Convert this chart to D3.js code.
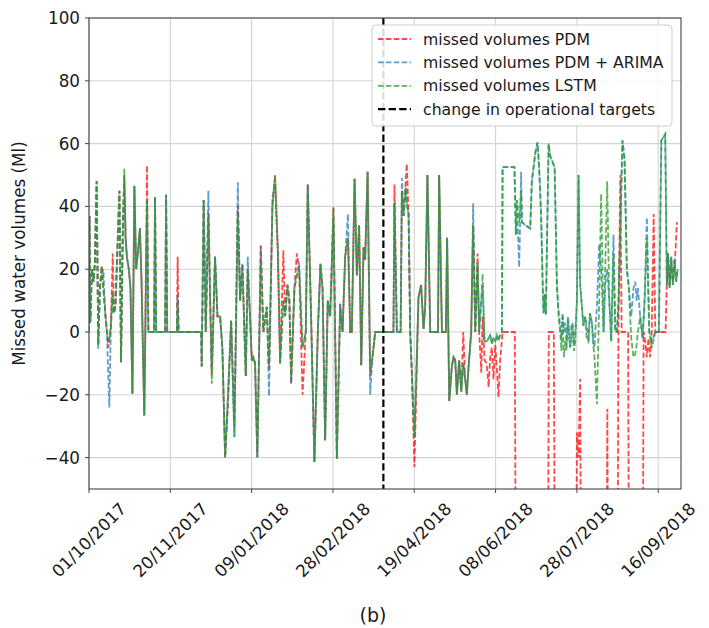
<!DOCTYPE html>
<html lang="en">
<head>
<meta charset="UTF-8">
<title>Missed water volumes</title>
<script src="https://d3js.org/d3.v7.min.js"></script>
<style>
    body, html { margin: 0; background: #fff; }
    text { font-family: "DejaVu Sans", sans-serif; fill: #1a1a1a; }
</style>
</head>
<body>
<div id="chart"></div>
<script>
// days counted from 01/10/2017, values in Ml
const startDate = "2017-10-01";
const changeDay = 181; // change in operational targets (31/03/2018)

const seriesNames = ["missed volumes PDM", "missed volumes PDM + ARIMA", "missed volumes LSTM"];

const pdm = [
  [0,0],[0.3,37],[0.8,3],[1.8,20],[2.8,16],[3.6,22],[4.7,48],[5.7,-4],[6.7,14],[7.8,21],[8.8,14],[10,6],[11,0],[12,-5],[13.5,3],[14.6,25],[15.3,6],[16.2,8],[17.2,22],[18.7,45],[19.7,-9.6],[20.7,30],[21.7,50],[22.5,30],[23.3,24],[24.5,20],[25.5,14],[26.7,-19.7],[27.9,46.6],[29,20],[30.2,26],[31.3,33],[32.3,16],[34,-26.6],[35.7,53],[36.5,0],[40,0],[40.6,43],[41.3,0],[46.8,0],[47.4,43.7],[48.1,0],[54,0],[54.5,24],[55.1,0],
  [69,0],[69.3,-11],[70.5,42],[71.8,0],[73.4,38],[74.5,10],[75.5,-14],[77.5,24],[79,5],[80.6,5],[82,-5],[83.7,-40],[85.3,-25],[87.4,3.6],[89.4,-30],[91.5,40],[92.9,10],[94.3,21.7],[96.4,-14],[97.6,20],[99,5],[100.1,-9],[101,-8],[102.1,-10],[103.5,-40],[105.6,27.5],[107.2,0],[109.3,8],[110.7,-12],[112.8,40],[114.4,50],[116.1,26],[117.5,-10],[119.5,26],[120.6,5],[122,15],[123.2,10],[124.3,-16.5],[126.3,14],[127.8,25],[129.2,20],[131.3,-20],[133.3,0],[134.5,47],[136.6,5],[138.6,-41.4],[140.7,0],[142.3,21.7],[143.6,14],[145.2,-34.5],[146.8,10],[148.3,5],[150.3,39.7],[152.4,-40.4],[154.4,9],[155.9,0],[157.5,24],[159.2,30],[160.6,0],[161.6,0],[163.3,48.8],[164.7,18],[166.1,34],[167.4,-10.6],[168.8,27],[169.8,23],[171.3,51],[172.9,-14],[174.3,-8],[176,0],
  [187.2,0],[187.8,47],[189.3,0],[191.6,0],[192.4,45],[193.4,37],[195.4,53.5],[196.5,37.5],[197.5,0],[198.5,-13],[200.1,-43],[202.6,11],[204.2,15],[205.7,1],[206.7,8],[208.1,50],[209.8,0],[214.6,0],[215.3,50],[217,0],[219.4,0],[220.2,30],[221.5,-22],[223.1,-11],[224.1,-8],[225.2,-9],[226.2,-20],[227.6,-9],[228.9,-19],[230.1,0],[231.3,-15],[232.3,-20],[233.4,-11],[235,0],[236.2,34],[237.5,0],[238.9,25],[239.9,0],[241.2,-13],[242,5],[243.2,-9],
  [244.5,-10],[245.7,-17.5],[246.7,-8],[247.7,-5],[248.7,-15],[249.8,-4],[250.8,-12],[251.8,-20.7],[252.8,-9],[254.3,0],[261.8,0],[262.5,-90],[282.2,-90],[282.7,0],[285.8,0],[286.5,-90],[299.5,-90],[300,-32],[301,-40],[302,-15],[302.6,-90],[318.2,-90],[318.7,-24.5],[319.2,-90],[325,-90],[325.5,0],[326.7,50],[327.5,0],[331.5,0],[332,-90],[340.5,-90],[341,0],[342,-3],[343,-8],[344,-2],[345,-8],[346,0],[347.2,37.6],[348.2,0],[354.5,0],[355.2,14],[356,25],[357,15],[358,22],[359,16],[360,20],[361.5,35]
];

const arima = [
  [0,0],[0.3,37],[0.8,3],[1.8,20],[2.8,16],[3.6,22],[4.7,48],[5.7,-5.3],[6.7,14],[7.8,18],[8.8,20],[10,6],[11,0],[12.5,-24],[13.5,3],[14.6,12],[15.3,6],[16.2,8],[17.2,22],[18.7,45],[19.7,-9.6],[20.7,30],[21.7,48],[22.5,30],[23.3,24],[24.5,20],[25.5,14],[26.7,-19.7],[27.9,46.6],[29,20],[30.2,26],[31.3,33],[32.3,16],[34,-26.6],[35.7,42],[36.5,0],[40,0],[40.6,43],[41.3,0],[46.8,0],[47.4,43.7],[48.1,0],[54,0],[54.5,12],[55.1,0],
  [69,0],[69.3,-11],[70.5,42],[71.8,0],[73.4,45],[74.5,10],[75.5,-12],[77.5,24],[79,5],[80.6,5],[82,-5],[83.7,-40],[85.3,-22],[87.4,3.6],[89.4,-33.5],[91.5,47.7],[92.9,10],[94.3,21.7],[96.4,-14],[97.6,24],[99,5],[100.1,-9],[101,-8],[102.1,-10],[103.5,-40],[105.6,27.5],[107.2,0],[109.3,8],[110.7,-20.4],[112.8,43],[114.4,47],[116.1,26],[117.5,-10],[119.5,10],[120.6,5],[122,15],[123.2,10],[124.3,-16.5],[126.3,14],[127.8,18],[129.2,22],[131.3,-5],[133.3,0],[134.5,47],[136.6,3],[138.6,-41.4],[140.7,0],[142.3,21.7],[143.6,14],[145.2,-34.5],[146.8,10],[148.3,5],[150.3,36],[152.4,-40.4],[154.4,9],[155.9,0],[157.5,24],[159.2,37.6],[160.6,0],[161.6,0],[163.3,48.8],[164.7,18],[166.1,34],[167.4,-10.6],[168.8,27],[169.8,23],[171.3,51],[172.9,-20],[174.3,-8],[176,0],
  [187.2,0],[187.8,41],[189.3,0],[191.6,0],[192.4,49],[193.4,37],[194.8,46],[195.6,40],[196.5,37.5],[197.5,0],[198.5,-13],[200.1,-33.5],[202.6,11],[204.2,15],[205.7,1],[206.7,8],[208.1,50],[209.8,0],[214.6,0],[215.3,50],[217,0],[219.4,0],[220.2,30],[221.5,-22],[223.1,-11],[224.1,-8],[225.2,-9],[226.2,-20],[227.6,-9],[228.9,-19],[230.1,-10],[231.3,-15],[232.3,-20],[233.4,-11],[235,0],[236.2,41],[237.5,0],[238.9,22],[239.9,0],[241.2,10],[242,15],[243.2,-3],
  [244.6,-3],[245.7,-2],[246.7,-1],[247.7,-3],[248.7,-2],[249.8,-3],[250.8,-1],[251.8,-2],[252.8,-1],[253.9,0],[254.3,52.5],[261.6,52.5],[262.5,31],[263.1,42],[264.5,20.6],[265.7,51],[266.2,35],[268.2,34],[271.3,33],[272.3,48],[274.4,57],[275.8,60.4],[276.8,52],[278,37],[279,14],[279.5,6],[280.2,12],[280.9,5.6],[282.6,60],[283.6,56],[286.3,52.5],[287.7,15],[288.7,7],[289.7,2],[290.5,-2],[291.2,6],[292,0],[292.8,3],[293.6,-4],[294.5,5],[295.2,0],[295.9,-5],[296.6,2],[297.3,3],[298.2,-4],[299,0],[300,10],[301,50],[302,15],[303.1,8],[304,2],[305.1,5],[306,2],[307.1,-3],[308,6],[309.2,3],[310,-2],[310.8,-5],[311.5,2],[312.3,8],[313.7,28],[314.9,20],[316.4,0],[317.4,15],[318.6,20],[319.9,10],[321.1,-3],[322.5,31],[323.6,0],[324.6,0],[325.6,10],[328,61],[329.3,55],[330.7,20],[331.8,15],[333.4,5],[334.8,14],[335.9,16],[336.7,10],[337.5,14],[338.9,5],[340.4,-2],[341.6,10],[343,36.5],[344.5,0],[346.1,-3],[348.2,0],[350.4,0],[351.9,61],[354.3,63],[355.3,15],[356,25],[357,14],[358,24],[359,15],[360,23],[361,16],[362,20]
];

const lstm = [
  [0,0],[0.3,37],[0.8,3],[1.8,20],[2.8,16],[3.6,22],[4.7,48],[5.7,-4],[6.7,14],[7.8,21],[8.8,14],[10,6],[11,0],[12,-3],[13.5,1],[14.6,12],[15.3,6],[16.2,8],[17.2,22],[18.7,45],[19.7,-9.6],[20.7,30],[21.7,52],[22.5,30],[23.3,24],[24.5,20],[25.5,14],[26.7,-19.7],[27.9,46.6],[29,20],[30.2,26],[31.3,33],[32.3,16],[34,-26.6],[35.7,42],[36.5,0],[40,0],[40.6,43],[41.3,0],[46.8,0],[47.4,43.7],[48.1,0],[54,0],[54.5,10],[55.1,0],
  [69,0],[69.3,-11],[70.5,42],[71.8,0],[73.4,36.5],[74.5,10],[75.5,-16.5],[77.5,24],[79,5],[80.6,5],[82,-5],[83.7,-40],[85.3,-22],[87.4,3.6],[89.4,-33.5],[91.5,37.6],[92.9,10],[94.3,21.7],[96.4,-14],[97.6,20],[99,5],[100.1,-9],[101,-8],[102.1,-10],[103.5,-40],[105.6,22],[107.2,0],[109.3,8],[110.7,-10],[112.8,40],[114.4,50],[116.1,26],[117.5,-10],[119.5,10],[120.6,5],[122,15],[123.2,10],[124.3,-15],[126.3,14],[127.8,18],[129.2,20],[131.3,-5],[133.3,0],[134.5,47],[136.6,3],[138.6,-41.4],[140.7,0],[142.3,21.7],[143.6,14],[145.2,-34.5],[146.8,10],[148.3,5],[150.3,39.7],[152.4,-40.4],[154.4,6],[155.9,0],[157.5,24],[159.2,30],[160.6,0],[161.6,0],[163.3,48.8],[164.7,18],[166.1,34],[167.4,-10.6],[168.8,27],[169.8,23],[171.3,51],[172.9,-12],[174.3,-8],[176,0],
  [187.2,0],[187.8,41],[189.3,0],[191.6,0],[192.4,45],[193.4,37],[194.8,46],[195.6,40],[196.5,37.5],[197.5,0],[198.5,-13],[200.1,-33.5],[202.6,11],[204.2,15],[205.7,1],[206.7,8],[208.1,50],[209.8,0],[214.6,0],[215.3,50],[217,0],[219.4,0],[220.2,30],[221.5,-22],[223.1,-11],[224.1,-8],[225.2,-9],[226.2,-20],[227.6,-9],[228.9,-19],[230.1,-10],[231.3,-15],[232.3,-20],[233.4,-11],[235,0],[236.2,34],[237.5,0],[238.9,22],[239.9,0],[241.2,10],[242,18.5],[243.2,-3],
  [244.6,-3],[245.7,-2],[246.7,-1],[247.7,-4],[248.7,-2],[249.8,-3],[250.8,-1],[251.8,-3],[252.8,-1],[253.9,0],[254.3,52.5],[261.6,52.5],[262.5,31],[263.1,42],[264.5,35],[265.7,45],[266.2,35],[268.2,34],[271.3,33],[272.3,48],[274.4,57],[275.8,60.4],[276.8,52],[278,37],[279,14],[279.5,6],[280.2,12],[280.9,5.6],[282.6,60],[283.6,56],[286.3,52.5],[287.7,15],[288.7,5],[289.7,0],[290.5,-6],[291.2,5],[292,-8],[292.8,-3],[293.6,-6],[294.5,4],[295.2,-2],[295.9,-5],[296.6,-3],[297.3,2],[298.2,-6],[299,-3],[300,10],[301,50],[302,15],[303.1,8],[304,2],[305.1,5],[306,-2],[307.1,-3],[308,6],[309.2,3],[310,-4],[310.8,-8],[311.5,-15],[312.3,-23],[313.7,10],[314.9,44],[316.4,0],[317.4,20],[318.6,48],[319.9,10],[321.1,-3],[322.5,25],[323.6,0],[324.6,0],[325.6,10],[328,61],[329.3,55],[330.7,20],[331.8,15],[333.4,-2],[334.8,-8],[335.9,-7],[336.7,-4],[337.5,0],[338.9,5],[340.4,-2],[341.6,10],[343,30],[344.5,0],[346.1,-5],[348.2,0],[350.4,0],[351.9,61],[354.3,63],[355.3,15],[356,25],[357,14],[358,24],[359,15],[360,23],[361,16],[362,20]
];

const yTicks = [-40, -20, 0, 20, 40, 60, 80, 100];
const xTickLabels = ["01/10/2017", "20/11/2017", "09/01/2018", "28/02/2018", "19/04/2018", "08/06/2018", "28/07/2018", "16/09/2018"];

const width = 709, height = 628;
const margin = {top: 18, right: 28, bottom: 139, left: 89};
const iw = width - margin.left - margin.right;
const ih = height - margin.top - margin.bottom;

const parseIso = d3.utcParse("%Y-%m-%d");
const parseTick = d3.utcParse("%d/%m/%Y");
const t0 = parseIso(startDate);
const dayToDate = d => new Date(t0.getTime() + d * 864e5);

const x = d3.scaleUtc().domain([t0, dayToDate(364)]).range([0, iw]);
const y = d3.scaleLinear().domain([-50, 100]).range([ih, 0]);

const svg = d3.select("#chart").append("svg")
    .attr("width", width).attr("height", height);
const g = svg.append("g").attr("transform", `translate(${margin.left},${margin.top})`);

g.append("clipPath").attr("id", "clip")
  .append("rect").attr("width", iw).attr("height", ih);

// grid
const tickDates = xTickLabels.map(parseTick);
g.append("g").selectAll("line").data(tickDates).join("line")
    .attr("x1", d => x(d)).attr("x2", d => x(d)).attr("y1", 0).attr("y2", ih)
    .attr("stroke", "#d3d3d3").attr("stroke-width", 1.1);
g.append("g").selectAll("line").data(yTicks).join("line")
    .attr("x1", 0).attr("x2", iw).attr("y1", d => y(d)).attr("y2", d => y(d))
    .attr("stroke", "#d3d3d3").attr("stroke-width", 1.1);

// series
const colors = ["rgba(255,0,0,0.72)", "rgba(31,119,180,0.72)", "rgba(44,160,44,0.78)"];
const line = d3.line().x(d => x(dayToDate(d[0]))).y(d => y(d[1]));
const plot = g.append("g").attr("clip-path", "url(#clip)");
[pdm, arima, lstm].forEach((s, i) => {
  plot.append("path").datum(s)
      .attr("fill", "none")
      .attr("stroke", colors[i])
      .attr("stroke-width", 1.8)
      .attr("stroke-dasharray", "5.5,2.4")
      .attr("d", line);
});

// change in operational targets
plot.append("line")
    .attr("x1", x(dayToDate(changeDay))).attr("x2", x(dayToDate(changeDay)))
    .attr("y1", 0).attr("y2", ih)
    .attr("stroke", "#000").attr("stroke-width", 2.2)
    .attr("stroke-dasharray", "7.4,3.2");

// frame
g.append("rect").attr("width", iw).attr("height", ih)
    .attr("fill", "none").attr("stroke", "#444").attr("stroke-width", 1.1);

// y axis
const yAxis = g.append("g");
yAxis.selectAll("line").data(yTicks).join("line")
    .attr("x1", -4).attr("x2", 0).attr("y1", d => y(d)).attr("y2", d => y(d))
    .attr("stroke", "#444");
yAxis.selectAll("text").data(yTicks).join("text")
    .attr("x", -9).attr("y", d => y(d)).attr("dy", "0.36em")
    .attr("text-anchor", "end").style("font-size", "16.8px")
    .text(d => d < 0 ? "\u2212" + Math.abs(d) : d);

// x axis
const xAxis = g.append("g").attr("transform", `translate(0,${ih})`);
xAxis.selectAll("line").data(tickDates).join("line")
    .attr("x1", d => x(d)).attr("x2", d => x(d)).attr("y1", 0).attr("y2", 4)
    .attr("stroke", "#444");
xAxis.selectAll("text").data(xTickLabels).join("text")
    .attr("transform", (d, i) => `translate(${x(tickDates[i])},51) rotate(-45)`)
    .attr("text-anchor", "middle").attr("dy", "0.35em")
    .style("font-size", "16.8px")
    .text(d => d);

// y label
g.append("text")
    .attr("transform", `translate(-64,${ih / 2}) rotate(-90)`)
    .attr("text-anchor", "middle").style("font-size", "16.8px")
    .text("Missed water volumes (Ml)");

// legend
const legend = g.append("g").attr("transform", "translate(283,7)");
legend.append("rect").attr("width", 300).attr("height", 101).attr("rx", 4)
    .attr("fill", "rgba(255,255,255,0.85)").attr("stroke", "#ccc");
const legendItems = seriesNames.map((n, i) => ({name: n, color: colors[i], w: 1.8, dash: "5.5,2.4"}))
    .concat([{name: "change in operational targets", color: "#000", w: 2.2, dash: "7.4,3.2"}]);
legendItems.forEach((d, i) => {
  const yy = 14 + i * 23.4;
  legend.append("line").attr("x1", 6).attr("x2", 39).attr("y1", yy).attr("y2", yy)
      .attr("stroke", d.color).attr("stroke-width", d.w).attr("stroke-dasharray", d.dash);
  legend.append("text").attr("x", 51).attr("y", yy).attr("dy", "0.36em")
      .style("font-size", "15.7px").text(d.name);
});

// panel label
svg.append("text").attr("x", 373).attr("y", 622)
    .attr("text-anchor", "middle").style("font-size", "19px").text("(b)");
</script>
</body>
</html>
